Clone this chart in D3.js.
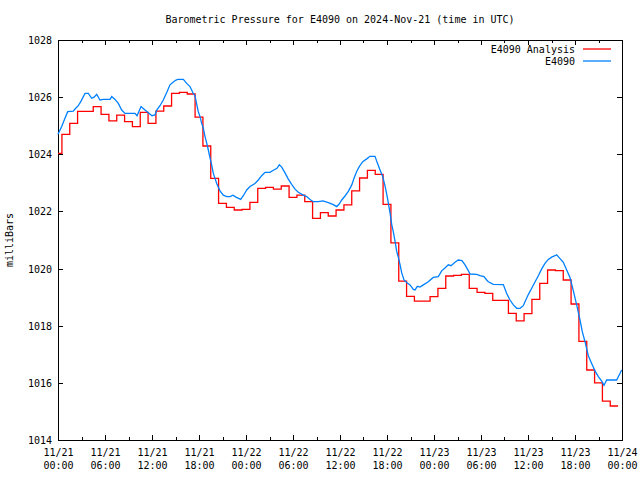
<!DOCTYPE html>
<html>
<head>
<meta charset="utf-8">
<script src="https://cdn.jsdelivr.net/npm/d3@7"></script>
<style>
  html, body { margin: 0; padding: 0; background: #fff; }
  svg text { font-family: "DejaVu Sans Mono", "Liberation Mono", monospace; font-size: 10px; fill: #000; }
</style>
</head>
<body>
<svg id="chart" width="640" height="480"></svg>
<script>
// ---------- data ----------
const title = "Barometric Pressure for E4090 on 2024-Nov-21 (time in UTC)";
const yLabel = "milliBars";
const seriesNames = ["E4090 Analysis", "E4090"];
const startTime = Date.UTC(2024, 10, 21, 0, 0);
const endTime = Date.UTC(2024, 10, 24, 0, 0);
const yTicks = [1014, 1016, 1018, 1020, 1022, 1024, 1026, 1028];

// Analysis: hourly values (hour offset 0..71 from start), each valid +/- 30 min
const analysisValues = [
  1024.03, 1024.70, 1025.08, 1025.50, 1025.50, 1025.67, 1025.40, 1025.17,
  1025.37, 1025.14, 1024.97, 1025.47, 1025.08, 1025.51, 1025.69, 1026.13,
  1026.17, 1026.11, 1025.30, 1024.29, 1023.16, 1022.28, 1022.14, 1022.05,
  1022.07, 1022.32, 1022.81, 1022.84, 1022.78, 1022.89, 1022.49, 1022.57,
  1022.34, 1021.76, 1021.96, 1021.84, 1022.05, 1022.23, 1022.72, 1023.17,
  1023.44, 1023.30, 1022.25, 1020.90, 1019.56, 1019.03, 1018.86, 1018.86,
  1019.02, 1019.31, 1019.74, 1019.76, 1019.80, 1019.31, 1019.17, 1019.13,
  1018.89, 1018.89, 1018.43, 1018.17, 1018.42, 1018.92, 1019.48, 1019.95,
  1019.93, 1019.60, 1018.76, 1017.45, 1016.45, 1016.00, 1015.36, 1015.19
];

// Observations: hour offsets from start and pressures
const obsHours = [
  0.00, 0.47, 0.89, 1.24, 1.95, 2.26, 2.59, 2.94, 3.45, 3.87, 4.30, 4.60, 4.94,
  5.36, 5.78, 6.64, 6.86, 7.28, 7.70, 8.13, 8.55, 9.83, 10.09, 10.60, 11.11,
  11.53, 12.00, 12.38, 12.60, 13.02, 13.44, 13.88, 14.30, 14.68, 15.06, 15.32,
  16.00, 16.43, 16.85, 17.27, 17.49, 17.71, 17.91, 18.13, 18.34, 18.55, 18.77,
  18.98, 19.19, 19.40, 19.62, 19.83, 20.26, 20.68, 21.10, 21.54, 21.96, 22.34,
  22.72, 23.32, 23.66, 24.09, 24.51, 25.15, 25.57, 26.00, 26.43, 27.06, 27.49,
  27.96, 28.25, 28.56, 28.98, 29.40, 29.83, 30.26, 30.68, 31.31, 31.75, 32.17,
  32.60, 33.23, 33.83, 34.51, 35.15, 35.58, 35.87, 36.22, 36.64, 37.06, 37.49,
  37.79, 38.13, 38.46, 38.90, 39.41, 39.83, 40.47, 40.76, 41.11, 41.45, 41.74,
  42.04, 42.38, 42.60, 42.80, 43.02, 43.24, 43.44, 43.66, 43.88, 44.17, 44.51,
  44.94, 45.36, 45.57, 45.87, 46.21, 46.64, 47.27, 47.91, 48.55, 48.98, 49.40,
  49.83, 50.17, 50.68, 51.10, 51.57, 51.96, 52.38, 52.60, 53.45, 53.87, 54.38,
  54.73, 54.93, 55.57, 56.85, 57.28, 57.70, 58.13, 58.56, 58.98, 59.40, 59.62,
  60.04, 60.47, 60.89, 61.32, 61.75, 62.17, 62.59, 63.02, 63.45, 63.66, 64.09,
  64.51, 64.94, 65.36, 65.79, 66.22, 66.64, 66.93, 67.28, 67.70, 68.13, 68.55,
  68.98, 69.41, 69.70, 70.04, 71.32, 71.74, 71.96
];
const obsValues = [
  1024.70, 1024.97, 1025.26, 1025.49, 1025.51, 1025.61, 1025.70, 1025.86, 1026.13, 1026.13, 1025.96, 1026.00, 1026.10,
  1025.90, 1025.92, 1025.92, 1026.02, 1025.92, 1025.78, 1025.55, 1025.43, 1025.43, 1025.35, 1025.67, 1025.55,
  1025.45, 1025.35, 1025.38, 1025.55, 1025.70, 1025.90, 1026.16, 1026.43, 1026.52, 1026.60, 1026.62,
  1026.62, 1026.48, 1026.37, 1026.13, 1026.05, 1025.75, 1025.49, 1025.32, 1025.08, 1024.91, 1024.62,
  1024.40, 1024.15, 1023.88, 1023.62, 1023.33, 1022.98, 1022.72, 1022.57, 1022.52, 1022.52, 1022.57,
  1022.50, 1022.42, 1022.55, 1022.75, 1022.87, 1022.98, 1023.10, 1023.25, 1023.37, 1023.37, 1023.44,
  1023.51, 1023.63, 1023.55, 1023.35, 1023.13, 1022.95, 1022.78, 1022.67, 1022.57, 1022.52, 1022.42,
  1022.34, 1022.34, 1022.37, 1022.31, 1022.24, 1022.17, 1022.25, 1022.40, 1022.54, 1022.70, 1022.92,
  1023.16, 1023.40, 1023.57, 1023.74, 1023.84, 1023.93, 1023.93, 1023.70, 1023.45, 1023.22, 1022.90,
  1022.50, 1021.96, 1021.55, 1021.29, 1020.97, 1020.60, 1020.40, 1020.15, 1019.85, 1019.60, 1019.51,
  1019.43, 1019.27, 1019.25, 1019.38, 1019.35, 1019.43, 1019.54, 1019.69, 1019.72, 1019.92, 1020.02,
  1020.13, 1020.10, 1020.22, 1020.30, 1020.28, 1020.13, 1019.93, 1019.81, 1019.80, 1019.75, 1019.72,
  1019.60, 1019.54, 1019.45, 1019.44, 1019.13, 1018.90, 1018.73, 1018.61, 1018.61, 1018.70, 1018.84,
  1019.09, 1019.31, 1019.53, 1019.75, 1019.99, 1020.18, 1020.32, 1020.40, 1020.45, 1020.48, 1020.35,
  1020.22, 1019.95, 1019.69, 1019.22, 1018.72, 1018.20, 1017.79, 1017.44, 1016.95, 1016.68, 1016.42,
  1016.22, 1016.06, 1015.91, 1016.10, 1016.10, 1016.33, 1016.45
];

// ---------- layout ----------
const W = 640, H = 480;
const L = 58, R = 622, T = 40, B = 440;
const HOUR = 3600 * 1000;

const svg = d3.select("#chart");
const x = d3.scaleUtc().domain([new Date(startTime), new Date(endTime)]).range([L, R]);
const y = d3.scaleLinear().domain([1014, 1028]).range([B, T]);

// title
svg.append("text").attr("x", (L + R) / 2).attr("y", 23).attr("text-anchor", "middle").text(title);

// y label
svg.append("text")
  .attr("transform", `translate(13,${(T + B) / 2}) rotate(-90)`)
  .attr("text-anchor", "middle").text(yLabel);

// axes
const majorX = d3.utcHour.every(6).range(new Date(startTime), new Date(endTime + 1));
const minorX = d3.utcHour.every(3).range(new Date(startTime), new Date(endTime + 1));
const fmtDate = d3.utcFormat("%m/%d"), fmtTime = d3.utcFormat("%H:%M");

const bottom = svg.append("g").attr("transform", `translate(0,${B})`)
  .call(d3.axisBottom(x).tickValues(majorX).tickSize(0).tickFormat(""));
bottom.select(".domain").remove();
bottom.selectAll(".tick text").remove();
bottom.selectAll(".tick").each(function(d) {
  const t = d3.select(this).append("text").attr("text-anchor", "middle").attr("fill", "#000");
  t.append("tspan").attr("x", 0).attr("y", 16).text(fmtDate(d));
  t.append("tspan").attr("x", 0).attr("y", 29).text(fmtTime(d));
});

const left = svg.append("g").attr("transform", `translate(${L},0)`)
  .call(d3.axisLeft(y).tickValues(yTicks).tickSize(0).tickPadding(6).tickFormat(d3.format("d")));
left.select(".domain").remove();
left.selectAll(".tick text").attr("dy", "0.35em");
svg.selectAll("g.tick text").style("font-family", "\"DejaVu Sans Mono\", monospace").style("font-size", "10px");

// tick marks (mirrored on all sides)
const ticks = svg.append("g").attr("stroke", "#000").attr("stroke-width", 1).attr("shape-rendering", "crispEdges");
minorX.forEach(d => {
  const major = (d.getUTCHours() % 6) === 0;
  const len = major ? 5 : 3;
  const px = Math.round(x(d)) + 0.5;
  ticks.append("line").attr("x1", px).attr("x2", px).attr("y1", B).attr("y2", B - len);
  ticks.append("line").attr("x1", px).attr("x2", px).attr("y1", T).attr("y2", T + len);
});
yTicks.forEach(v => {
  const py = Math.round(y(v)) + 0.5;
  ticks.append("line").attr("x1", L).attr("x2", L + 5).attr("y1", py).attr("y2", py);
  ticks.append("line").attr("x1", R).attr("x2", R - 5).attr("y1", py).attr("y2", py);
});

// frame
svg.append("rect").attr("x", L + 0.5).attr("y", T + 0.5).attr("width", R - L).attr("height", B - T)
  .attr("fill", "none").attr("stroke", "#000").attr("stroke-width", 1).attr("shape-rendering", "crispEdges");

// analysis series (step, each hourly value covers +/- 30 min)
const analysisPts = analysisValues.map((v, h) => [Math.max(0, h - 0.5), v]);
analysisPts.push([analysisValues.length - 0.5, analysisValues[analysisValues.length - 1]]);
const stepLine = d3.line()
  .x(d => x(new Date(startTime + d[0] * HOUR)))
  .y(d => y(d[1]))
  .curve(d3.curveStepAfter);
svg.append("path").datum(analysisPts)
  .attr("d", stepLine).attr("fill", "none").attr("stroke", "#ff0000").attr("stroke-width", 1.3);

// observation series
const obsPts = obsHours.map((h, i) => [h, obsValues[i]]);
const obsLine = d3.line()
  .x(d => x(new Date(startTime + d[0] * HOUR)))
  .y(d => y(d[1]));
svg.append("path").datum(obsPts)
  .attr("d", obsLine).attr("fill", "none").attr("stroke", "#0080ff").attr("stroke-width", 1.3);

// legend
const legendColors = ["#ff0000", "#0080ff"];
const lg = svg.append("g");
seriesNames.forEach((name, i) => {
  const ly = 49 + i * 12;
  lg.append("text").attr("x", 575).attr("y", ly).attr("dy", "0.35em").attr("text-anchor", "end").text(name);
  lg.append("line").attr("x1", 583).attr("x2", 611).attr("y1", ly).attr("y2", ly)
    .attr("stroke", legendColors[i]).attr("stroke-width", 1.3);
});
</script>
</body>
</html>
